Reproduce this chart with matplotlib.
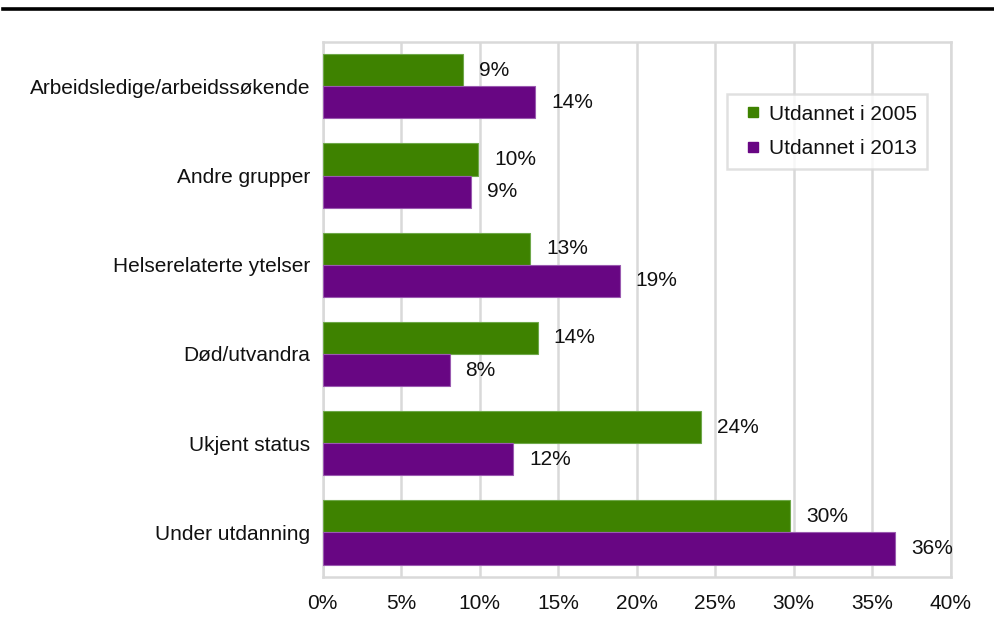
import matplotlib
matplotlib.use("Agg")
import matplotlib.pyplot as plt
from matplotlib.lines import Line2D
import numpy as np

plt.rcParams['font.family'] = ['Liberation Sans', 'DejaVu Sans']

categories = [
    "Arbeidsledige/arbeidssøkende",
    "Andre grupper",
    "Helserelaterte ytelser",
    "Død/utvandra",
    "Ukjent status",
    "Under utdanning",
]
series_names = ["Utdannet i 2005", "Utdannet i 2013"]
share_2005 = [8.96, 9.9, 13.23, 13.7, 24.08, 29.78]
share_2013 = [13.52, 9.43, 18.93, 8.08, 12.14, 36.45]
x_ticks = [0, 5, 10, 15, 20, 25, 30, 35, 40]

green = "#3e8200"
purple = "#680683"
grid_grey = "#d9d9d9"
text_col = "#111111"
fs = 15

fig = plt.figure(figsize=(9.95, 6.17), dpi=100)
ax = fig.add_axes([0.3243, 0.0648, 0.9555 - 0.3243, 0.9324 - 0.0648])

n = len(categories)
y = np.arange(n)[::-1].astype(float)
h = 0.36

bars_a = ax.barh(y + h / 2, share_2005, height=h, color=green,
                 edgecolor="#6fa84a", linewidth=0.8, zorder=3)
bars_b = ax.barh(y - h / 2, share_2013, height=h, color=purple,
                 edgecolor="#9a5ab0", linewidth=0.8, zorder=3)

for bars, vals in ((bars_a, share_2005), (bars_b, share_2013)):
    for b, v in zip(bars, vals):
        ax.annotate(f"{v:.0f}%", xy=(v, b.get_y() + b.get_height() / 2),
                    xytext=(11.5, 0), textcoords="offset points",
                    ha="left", va="center", fontsize=fs, color=text_col)

ax.set_xlim(0, 40)
ax.set_ylim(-0.5, n - 0.5)
ax.set_xticks(x_ticks)
ax.set_xticklabels([f"{t}%" for t in x_ticks])
ax.set_yticks(y)
ax.set_yticklabels(categories)
ax.tick_params(axis="both", length=0, labelsize=fs, colors=text_col)
ax.tick_params(axis="x", pad=12)
ax.tick_params(axis="y", pad=9)

ax.xaxis.grid(True, color=grid_grey, linewidth=1.8, zorder=0)
ax.set_axisbelow(True)
for s in ax.spines.values():
    s.set_color(grid_grey)
    s.set_linewidth(1.8)

handles = [Line2D([], [], marker="s", linestyle="none", markersize=7.5,
                  markerfacecolor=c, markeredgecolor=c)
           for c in (green, purple)]
leg = ax.legend(handles, series_names, loc="upper left",
                bbox_to_anchor=(0.644, 0.902), fontsize=fs,
                frameon=True, fancybox=False, edgecolor=grid_grey,
                handlelength=1.5, handletextpad=0.0, borderpad=0.5,
                labelspacing=0.75, borderaxespad=0)
leg.get_frame().set_linewidth(1.8)
for t in leg.get_texts():
    t.set_color(text_col)

# heavy rule across the top of the figure
fig.add_artist(Line2D([0.003, 1.0], [1 - 8.5 / 617, 1 - 8.5 / 617],
                      transform=fig.transFigure, color="black", linewidth=2.6))

fig.savefig("out.png", dpi=100)
